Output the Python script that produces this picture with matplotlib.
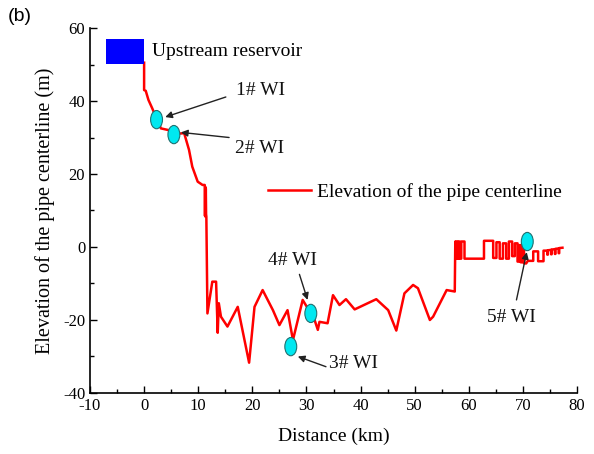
import matplotlib
matplotlib.use("Agg")
import matplotlib.pyplot as plt
from matplotlib.patches import Ellipse, Rectangle
from matplotlib.ticker import MultipleLocator

plt.rcParams['font.family'] = ['Liberation Serif', 'DejaVu Serif']
plt.rcParams['axes.unicode_minus'] = False

# Pipe centreline (distance km, elevation m)
dist = [0, 0, 0.3, 0.8, 1.5, 2.35, 3.1, 4.6, 5.4, 7.4, 8.3, 8.9, 9.9, 10.8, 11.2,
        11.25, 11.3, 11.35, 11.4, 11.45, 11.5, 11.7, 12.6, 13.3, 13.6, 13.8, 14.2, 15.4,
        17.3, 19.4, 20.4, 21.9, 23.8, 25.0, 26.5, 27.5, 29.3, 30.8, 31.5, 32.1, 32.4,
        33.9, 34.9, 36.1, 37.3, 38.9, 42.9, 45.1, 46.6, 48.1, 49.7, 50.6, 52.8, 53.4,
        55.9, 57.4,
        57.5, 57.5, 57.7, 57.7, 57.9, 57.9, 58.1, 58.1, 58.3, 58.3, 58.6, 58.6, 59.2,
        59.2, 62.8, 62.8, 64.5, 64.5, 65.1, 65.1, 65.7, 65.7, 66.3, 66.3, 66.9, 66.9,
        67.4, 67.4, 68.0, 68.0, 68.5, 68.5, 69.0, 69.0, 69.3, 69.3, 69.6, 69.6, 69.9,
        69.9, 70.2, 70.2, 70.6, 70.9, 71.9, 71.9, 72.8, 72.8, 73.8, 73.8, 74.5, 74.5,
        74.6, 74.6, 75.2, 75.2, 75.3, 75.3, 75.9, 75.9, 76.0, 76.0, 76.6, 76.6, 76.7,
        76.7, 77.3]
elev = [50.5, 43, 42.8, 40.3, 38, 35, 32.5, 32, 30.9, 31.2, 26.6, 22, 17.9, 17, 17,
        8.5, 16.5, 8.3, 16, 9, 8.3, -18.2, -9.5, -9.5, -23.5, -15.4, -19.1, -21.8,
        -16.4, -31.7, -16.4, -11.8, -17.3, -21.4, -17.3, -25.5, -14.5, -18.2, -20, -22.7,
        -20.5, -20.9, -13.2, -15.9, -14.3, -17.1, -14.3, -17.3, -22.9, -12.7, -10.4,
        -11.3, -20, -19.1, -11.8, -12.2,
        1.5, -3.2, -3.2, 1.5, 1.5, -3.2, -3.2, 1.5, 1.5, -3.2, -3.2, 1.5, 1.5,
        -3.2, -3.2, 1.7, 1.7, -3.0, -3.0, 1.3, 1.3, -3.2, -3.2, 1.0, 1.0, -3.2,
        -3.2, 1.5, 1.5, -2.5, -2.5, 1.0, 1.0, -4.0, -4.0, 0.5, 0.5, -4.2, -4.2,
        0.5, 0.5, -4.5, -4.5, -3.8, -3.8, -1.2, -1.2, -3.9, -3.9, -1.0, -1.0, -2.1,
        -2.1, -0.9, -0.8, -2.0, -2.0, -0.7, -0.6, -1.9, -1.9, -0.5, -0.4, -1.7,
        -1.7, -0.3, -0.2]

# Upstream reservoir box (x0, x1, y0, y1)
res_x = [-7.0, 0.0]
res_y = [50.2, 56.9]

# Water-hammer indicators (WI)
wi_names = ['1# WI', '2# WI', '3# WI', '4# WI', '5# WI']
wi_x = [2.3, 5.5, 27.1, 30.8, 70.8]
wi_y = [34.9, 30.8, -27.3, -18.2, 1.5]
# arrow heads, arrow tails, text positions
arr_head = [(3.9, 35.6), (6.8, 31.4), (28.4, -30.0), (30.2, -14.5), (70.7, -1.4)]
arr_tail = [(15.1, 41.1), (15.7, 30.0), (33.6, -32.8), (28.7, -7.5), (68.8, -14.5)]
txt_pos = [(17.0, 43.0), (16.8, 27.0), (34.2, -32.0), (27.4, -3.6), (67.9, -19.3)]
txt_ha = ['left', 'left', 'left', 'center', 'center']

fig = plt.figure(figsize=(5.94, 4.54), dpi=100)
ax = fig.add_axes([0.1515, 0.1344, 0.82, 0.8039])

line, = ax.plot(dist, elev, color='#ff0000', lw=1.8, zorder=2,
                label='Elevation of the pipe centerline')

ax.add_patch(Rectangle((res_x[0], res_y[0]), res_x[1] - res_x[0], res_y[1] - res_y[0],
                       facecolor='#0000ff', edgecolor='none', zorder=3))
ax.text(1.5, 53.5, 'Upstream reservoir', fontsize=14, va='center', ha='left')

for i in range(len(wi_names)):
    ax.add_patch(Ellipse((wi_x[i], wi_y[i]), 2.2, 5.0, facecolor='#00e8f0',
                         edgecolor='#207070', lw=0.8, zorder=4))
    ax.annotate('', xy=arr_head[i], xytext=arr_tail[i],
                arrowprops=dict(arrowstyle='-|>', color='#222222', lw=1.0,
                                mutation_scale=10, shrinkA=0, shrinkB=0), zorder=5)
    ax.text(txt_pos[i][0], txt_pos[i][1], wi_names[i], fontsize=14,
            ha=txt_ha[i], va='center', color='#111111')

ax.legend(handles=[line], loc='center left', bbox_to_anchor=(0.366, 0.55),
          frameon=False, fontsize=14, borderpad=0, borderaxespad=0,
          handlelength=2.2, handletextpad=0.3)

ax.set_xlim(-10, 80)
ax.set_ylim(-40, 60)
ax.xaxis.set_major_locator(MultipleLocator(10))
ax.xaxis.set_minor_locator(MultipleLocator(5))
ax.yaxis.set_major_locator(MultipleLocator(20))
ax.yaxis.set_minor_locator(MultipleLocator(10))
ax.tick_params(which='both', direction='in', labelsize=12, width=1.0)
ax.tick_params(which='major', length=5)
ax.tick_params(which='minor', length=3)
for s in ['top', 'right']:
    ax.spines[s].set_visible(False)
for s in ['left', 'bottom']:
    ax.spines[s].set_linewidth(1.2)

ax.set_xlabel('Distance (km)', fontsize=14, labelpad=10)
ax.set_ylabel('Elevation of the pipe centerline (m)', fontsize=14.5, labelpad=6)

fig.text(0.013, 0.982, '(b)', fontsize=14, family=['Liberation Sans', 'DejaVu Sans'],
         ha='left', va='top')

fig.savefig('out.png', dpi=100)
